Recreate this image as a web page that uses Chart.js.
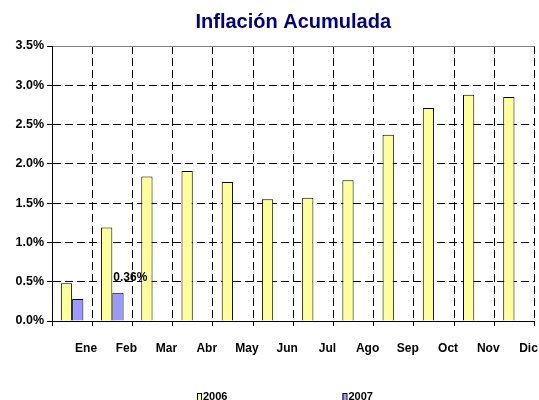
<!DOCTYPE html>
<html>
<head>
<meta charset="utf-8">
<script src="https://cdn.jsdelivr.net/npm/chart.js@4/dist/chart.umd.min.js"></script>
<style>
  html, body { margin: 0; padding: 0; background: #fff; }
  canvas { display: block; }
</style>
</head>
<body>
<canvas id="c" width="539" height="400"></canvas>
<script>
const categories = ['Ene', 'Feb', 'Mar', 'Abr', 'May', 'Jun', 'Jul', 'Ago', 'Sep', 'Oct', 'Nov', 'Dic'];
const series2006 = [0.48, 1.19, 1.84, 1.91, 1.77, 1.55, 1.57, 1.79, 2.37, 2.71, 2.88, 2.85];
const series2007 = [0.28, 0.36, null, null, null, null, null, null, null, null, null, null];
const seriesNames = ['2006', '2007'];
const yTicks = [0, 0.5, 1.0, 1.5, 2.0, 2.5, 3.0, 3.5];

const FONT = "'Liberation Sans', Arial, sans-serif";
const fill2006 = '#FFFF99';
const fill2007 = '#9999FF';

const valueLabelPlugin = {
  id: 'valueLabel',
  afterDatasetsDraw(chart) {
    const ctx = chart.ctx;
    const meta = chart.getDatasetMeta(1);
    const data = chart.data.datasets[1].data;
    let last = -1;
    data.forEach((v, i) => { if (v !== null) last = i; });
    if (last < 0) return;
    const bar = meta.data[last];
    ctx.save();
    ctx.font = 'bold 12px ' + FONT;
    ctx.fillStyle = '#000';
    ctx.textAlign = 'left';
    ctx.textBaseline = 'middle';
    ctx.fillText(data[last].toFixed(2) + '%', bar.x - bar.width / 2 + 1, bar.y - 15);
    ctx.restore();
  }
};

const legendPlugin = {
  id: 'customLegend',
  afterDraw(chart) {
    const ctx = chart.ctx;
    const area = chart.chartArea;
    const y = area.bottom + 76;
    const fills = [fill2006, fill2007];
    const gap = 115;
    ctx.save();
    ctx.font = 'bold 11px ' + FONT;
    ctx.textBaseline = 'middle';
    ctx.textAlign = 'left';
    const widths = seriesNames.map(n => 4 + 2 + ctx.measureText(n).width);
    let x = area.left + 145;
    seriesNames.forEach((n, i) => {
      ctx.fillStyle = fills[i];
      ctx.fillRect(x, y - 4, 4, 7);
      ctx.strokeStyle = '#000';
      ctx.lineWidth = 1;
      ctx.strokeRect(x + 0.5, y - 4 + 0.5, 4, 7);
      ctx.fillStyle = '#000';
      ctx.fillText(n, x + 6, y);
      x += widths[i] + gap;
    });
    ctx.restore();
  }
};

new Chart(document.getElementById('c'), {
  type: 'bar',
  data: {
    labels: categories,
    datasets: [
      { label: seriesNames[0], data: series2006, backgroundColor: fill2006, borderColor: '#000', borderWidth: 1, barPercentage: 1.0, categoryPercentage: 0.56 },
      { label: seriesNames[1], data: series2007, backgroundColor: fill2007, borderColor: '#000', borderWidth: 1, barPercentage: 1.0, categoryPercentage: 0.56 }
    ]
  },
  options: {
    responsive: false,
    animation: false,
    layout: { padding: { left: 0, right: 1, top: 0, bottom: 44 } },
    plugins: {
      legend: { display: false },
      tooltip: { enabled: false },
      title: {
        display: true,
        text: 'Inflación Acumulada',
        color: '#000080',
        fullSize: false,
        font: { family: FONT, size: 20, weight: 'bold' },
        padding: { top: 10, bottom: 12 }
      }
    },
    scales: {
      x: {
        grid: {
          offset: true,
          color: '#000',
          lineWidth: 1,
          tickLength: 5,
          tickColor: '#000'
        },
        border: { display: true, color: '#000', width: 1, dash: [8, 4] },
        ticks: {
          color: '#000',
          font: { family: FONT, size: 12, weight: 'bold' },
          padding: 15,
          labelOffset: 14,
          maxRotation: 0,
          autoSkip: false
        },
        afterFit(scale) { scale.height = 35; }
      },
      y: {
        min: 0,
        max: 3.5,
        afterBuildTicks(scale) { scale.ticks = yTicks.map(v => ({ value: v })); },
        grid: {
          color: (c) => (c.tick && c.tick.value >= 3.5) ? '#808080' : '#000',
          lineWidth: 1,
          tickLength: 5,
          tickColor: '#000'
        },
        border: {
          display: true, color: '#000', width: 1,
          dash: (c) => (c.tick && c.tick.value >= 3.5) ? [] : [8, 4]
        },
        ticks: {
          color: '#000',
          font: { family: FONT, size: 12.5, weight: 'bold' },
          padding: 3,
          callback: (v) => Number(v).toFixed(1) + '%'
        },
        afterFit(scale) { scale.width = 52; }
      }
    }
  },
  plugins: [valueLabelPlugin, legendPlugin]
});
</script>
</body>
</html>
